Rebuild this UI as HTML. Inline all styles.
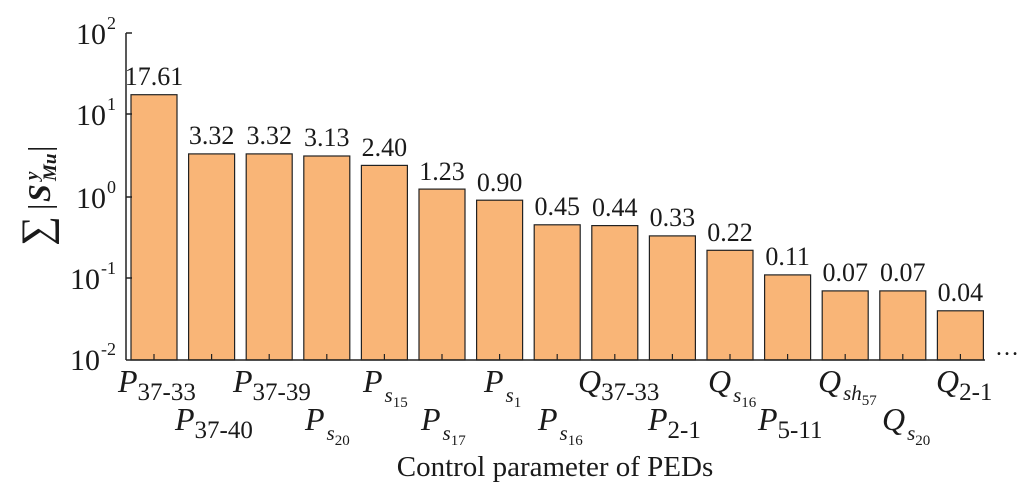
<!DOCTYPE html>
<html><head><style>body{margin:0;background:#fff} svg,svg text,svg tspan{font-family:"Liberation Serif","Times New Roman",Times,"DejaVu Serif",serif !important}</style></head><body>
<svg width="1028" height="492" xmlns="http://www.w3.org/2000/svg" fill="#1a1a1a" style="font-family:'Liberation Serif','Times New Roman','DejaVu Serif',serif">
<g fill="#F9B577" stroke="#222" stroke-width="1.2">
<rect x="131" y="94.7" width="46" height="265.3"/>
<rect x="188.6" y="153.9" width="46" height="206.1"/>
<rect x="246.2" y="153.9" width="46" height="206.1"/>
<rect x="303.8" y="156" width="46" height="204"/>
<rect x="361.4" y="165.4" width="46" height="194.6"/>
<rect x="419" y="189.1" width="46" height="170.9"/>
<rect x="476.6" y="200.2" width="46" height="159.8"/>
<rect x="534.2" y="224.8" width="46" height="135.2"/>
<rect x="591.8" y="225.6" width="46" height="134.4"/>
<rect x="649.4" y="235.9" width="46" height="124.1"/>
<rect x="707" y="250.3" width="46" height="109.7"/>
<rect x="764.6" y="274.9" width="46" height="85.1"/>
<rect x="822.2" y="290.9" width="46" height="69.1"/>
<rect x="879.8" y="290.9" width="46" height="69.1"/>
<rect x="937.4" y="310.8" width="46" height="49.2"/>
</g>
<g stroke="#222" stroke-width="1.2">
<line x1="154" y1="360" x2="154" y2="354"/><line x1="211.6" y1="360" x2="211.6" y2="354"/><line x1="269.2" y1="360" x2="269.2" y2="354"/><line x1="326.8" y1="360" x2="326.8" y2="354"/><line x1="384.4" y1="360" x2="384.4" y2="354"/><line x1="442" y1="360" x2="442" y2="354"/><line x1="499.6" y1="360" x2="499.6" y2="354"/><line x1="557.2" y1="360" x2="557.2" y2="354"/><line x1="614.8" y1="360" x2="614.8" y2="354"/><line x1="672.4" y1="360" x2="672.4" y2="354"/><line x1="730" y1="360" x2="730" y2="354"/><line x1="787.6" y1="360" x2="787.6" y2="354"/><line x1="845.2" y1="360" x2="845.2" y2="354"/><line x1="902.8" y1="360" x2="902.8" y2="354"/><line x1="960.4" y1="360" x2="960.4" y2="354"/>
</g>
<g font-size="26" text-anchor="middle">
<text x="154" y="85">17.61</text><text x="211.6" y="144">3.32</text><text x="269.2" y="144">3.32</text><text x="326.8" y="146">3.13</text><text x="384.4" y="156">2.40</text><text x="442" y="180">1.23</text><text x="499.6" y="191">0.90</text><text x="557.2" y="215">0.45</text><text x="614.8" y="216">0.44</text><text x="672.4" y="226">0.33</text><text x="730" y="241">0.22</text><text x="787.6" y="265">0.11</text><text x="845.2" y="281">0.07</text><text x="902.8" y="281">0.07</text><text x="960.4" y="301">0.04</text>
</g>
<line x1="126" y1="33" x2="126" y2="360" stroke="#222" stroke-width="1.5"/>
<line x1="126" y1="360" x2="985" y2="360" stroke="#222" stroke-width="1.5"/>
<g stroke="#222" stroke-width="1.5"><line x1="126" y1="33" x2="132" y2="33"/><line x1="126" y1="114" x2="132" y2="114"/><line x1="126" y1="197" x2="132" y2="197"/><line x1="126" y1="278" x2="132" y2="278"/></g>
<g font-size="30" text-anchor="end">
<text x="106" y="44">10</text><text x="107" y="29" font-size="18" text-anchor="start">2</text>
<text x="106" y="125">10</text><text x="107" y="110" font-size="18" text-anchor="start">1</text>
<text x="106" y="208">10</text><text x="107" y="193" font-size="18" text-anchor="start">0</text>
<text x="100" y="289">10</text><text x="101" y="274" font-size="18" text-anchor="start">-1</text>
<text x="100" y="370">10</text><text x="101" y="355" font-size="18" text-anchor="start">-2</text>
</g>
<text x="995" y="355" font-size="24">…</text>
<g transform="translate(50,200) rotate(-90)" font-size="32">
<text x="-46" y="0" font-size="42">∑</text>
<text x="-10" y="0">|</text>
<text x="-2" y="0" font-weight="bold" font-style="italic">S</text>
<text x="20" y="-12" font-size="19" font-style="italic" font-weight="bold">y</text>
<text x="19" y="6" font-size="19" font-style="italic" font-weight="bold">Mu</text>
<text x="48" y="0">|</text>
</g>
<g font-size="32" font-style="italic">
<text x="118" y="392">P<tspan font-style="normal" font-size="25" dy="8">37-33</tspan></text>
<text x="175" y="430">P<tspan font-style="normal" font-size="25" dy="8">37-40</tspan></text>
<text x="233" y="392">P<tspan font-style="normal" font-size="25" dy="8">37-39</tspan></text>
<text x="305" y="430">P<tspan font-size="21" dy="10" dx="2">s</tspan><tspan font-style="normal" font-size="15" dy="5">20</tspan></text>
<text x="363" y="392">P<tspan font-size="21" dy="10" dx="2">s</tspan><tspan font-style="normal" font-size="15" dy="5">15</tspan></text>
<text x="421" y="430">P<tspan font-size="21" dy="10" dx="2">s</tspan><tspan font-style="normal" font-size="15" dy="5">17</tspan></text>
<text x="484" y="392">P<tspan font-size="21" dy="10" dx="2">s</tspan><tspan font-style="normal" font-size="15" dy="5">1</tspan></text>
<text x="538" y="430">P<tspan font-size="21" dy="10" dx="2">s</tspan><tspan font-style="normal" font-size="15" dy="5">16</tspan></text>
<text x="578" y="392">Q<tspan font-style="normal" font-size="25" dy="8">37-33</tspan></text>
<text x="648" y="430">P<tspan font-style="normal" font-size="25" dy="8">2-1</tspan></text>
<text x="708" y="392">Q<tspan font-size="21" dy="10" dx="2">s</tspan><tspan font-style="normal" font-size="15" dy="5">16</tspan></text>
<text x="758" y="430">P<tspan font-style="normal" font-size="25" dy="8">5-11</tspan></text>
<text x="818" y="392">Q<tspan font-size="21" dy="8" dx="2">sh</tspan><tspan font-style="normal" font-size="15" dy="5">57</tspan></text>
<text x="882" y="430">Q<tspan font-size="21" dy="10" dx="2">s</tspan><tspan font-style="normal" font-size="15" dy="5">20</tspan></text>
<text x="936" y="392">Q<tspan font-style="normal" font-size="25" dy="8">2-1</tspan></text>
</g>
<text x="555" y="476" font-size="29" text-anchor="middle">Control parameter of PEDs</text>
</svg>
</body></html>
